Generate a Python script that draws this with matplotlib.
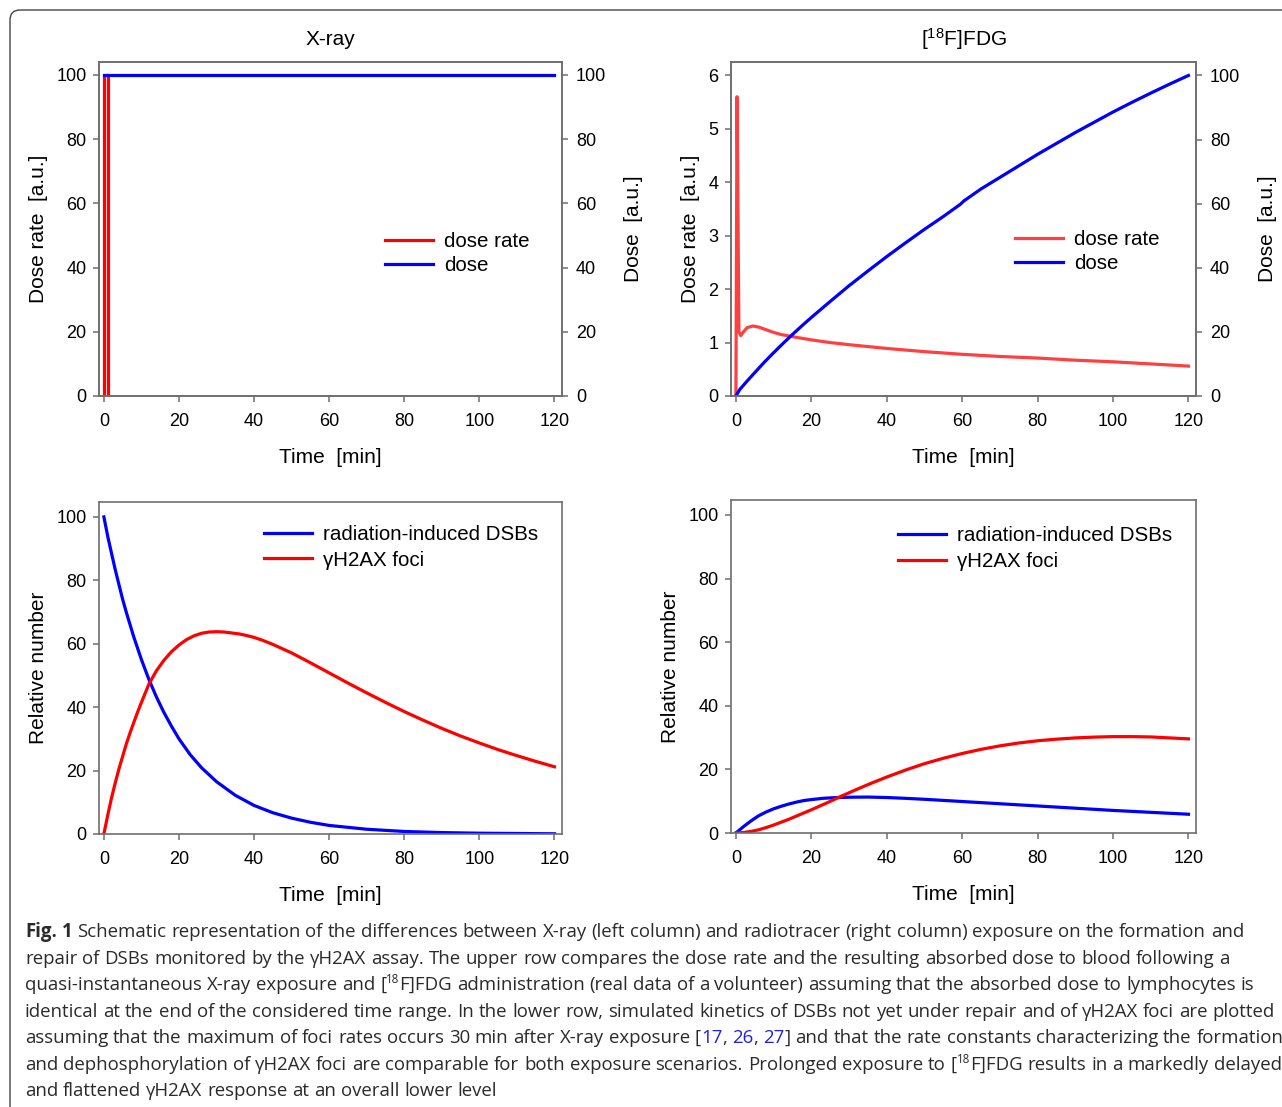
import re
import matplotlib
matplotlib.use("Agg")
import matplotlib.pyplot as plt
from matplotlib.patches import FancyBboxPatch
from matplotlib.transforms import IdentityTransform

plt.rcParams['font.family'] = ['Liberation Sans', 'DejaVu Sans']
plt.rcParams['mathtext.fontset'] = 'custom'
plt.rcParams['mathtext.rm'] = 'Liberation Sans'
plt.rcParams['mathtext.it'] = 'Liberation Sans'

W, H = 1282, 1107

#-----data-----#
# X-ray: short pulse, dose reached at once
xray_rate_t = [0, 0, 1, 1]
xray_rate = [0, 100, 100, 0]
xray_dose_t = [0, 120]
xray_dose = [100, 100]

# FDG: injection spike then slow washout
fdg_rate_t = [0, 0.3, 0.8, 1.3, 2, 3, 4.5, 6, 8, 10, 12, 15, 17.5, 20, 25, 30, 35, 40, 45, 50, 55, 60, 70, 80, 90,
              100, 110, 120]
fdg_rate = [0, 5.6, 1.2, 1.13, 1.2, 1.28, 1.31, 1.29, 1.24, 1.19, 1.15, 1.11, 1.08, 1.05, 1.0, 0.96, 0.925, 0.89,
            0.86, 0.83, 0.805, 0.78, 0.74, 0.71, 0.67, 0.64, 0.6, 0.56]
fdg_dose_t = [0, 1, 3, 5, 7.5, 10, 12.5, 15, 17.5, 20, 25, 30, 35, 40, 45, 50, 55, 59.5, 60.5, 65, 70, 75, 80, 85,
              90, 95, 100, 105, 110, 115, 120]
fdg_dose = [0, 2, 4.7, 7.3, 10.5, 13.5, 16.4, 19.2, 21.9, 24.5, 29.5, 34.4, 39, 43.5, 47.8, 52, 56, 59.8, 60.9,
            64.6, 68.2, 71.8, 75.4, 78.8, 82.2, 85.4, 88.6, 91.6, 94.5, 97.3, 100]

# lower row, X-ray
xr_dsb_t = [0, 1, 2, 3, 4, 5, 6, 8, 10, 12, 14, 16, 18, 20, 23, 26, 30, 35, 40, 45, 50, 55, 60, 70, 80, 90, 100, 120]
xr_dsb = [100, 94, 88.7, 83.5, 78.7, 74, 69.8, 62, 55, 48.7, 43.2, 38.3, 34, 30, 25, 20.9, 16.5, 12.2, 9, 6.7, 5,
          3.7, 2.7, 1.5, 0.8, 0.45, 0.25, 0.07]
xr_foci_t = [0, 1, 2, 3, 4, 5, 6, 7, 8, 9, 10, 12, 14, 16, 18, 20, 22, 24, 26, 28, 30, 32, 34, 36, 38, 40, 42, 45,
             50, 55, 60, 65, 70, 75, 80, 85, 90, 95, 100, 105, 110, 115, 120]
xr_foci = [0, 5.8, 11.2, 16, 20.5, 24.5, 28.5, 32, 35.3, 38.5, 41.5, 47.3, 51.5, 54.8, 57.5, 59.6, 61.3, 62.5, 63.3,
           63.7, 63.8, 63.7, 63.4, 63.1, 62.6, 62.0, 61.2, 59.8, 57.1, 54.0, 50.8, 47.6, 44.5, 41.5, 38.6, 35.9, 33.3,
           30.9, 28.7, 26.6, 24.7, 22.9, 21.2]

# lower row, FDG
fd_dsb_t = [0, 2, 4, 6, 8, 10, 12, 14, 16, 18, 20, 23, 26, 30, 35, 40, 45, 50, 60, 70, 80, 90, 100, 110, 120]
fd_dsb = [0, 2, 3.8, 5.4, 6.6, 7.6, 8.4, 9.1, 9.7, 10.2, 10.5, 10.9, 11.1, 11.25, 11.3, 11.15, 10.9, 10.6, 9.9,
          9.2, 8.5, 7.8, 7.1, 6.5, 5.9]
fd_foci_t = [0, 2, 4, 6, 8, 10, 12, 14, 16, 18, 20, 24, 28, 32, 36, 40, 45, 50, 55, 60, 65, 70, 75, 80, 85, 90, 95,
             100, 105, 110, 115, 120]
fd_foci = [0, 0.15, 0.5, 1.0, 1.7, 2.5, 3.4, 4.3, 5.3, 6.3, 7.3, 9.4, 11.6, 13.7, 15.7, 17.6, 19.8, 21.8, 23.5, 25,
           26.3, 27.4, 28.3, 29, 29.5, 29.9, 30.15, 30.3, 30.3, 30.2, 29.9, 29.6]

xticks = [0, 20, 40, 60, 80, 100, 120]
#-----data-----#

caption = [
    "*Fig. 1* Schematic representation of the differences between X-ray (left column) and radiotracer (right column) exposure on the formation and",
    "repair of DSBs monitored by the γH2AX assay. The upper row compares the dose rate and the resulting absorbed dose to blood following a",
    "quasi-instantaneous X-ray exposure and [^18^F]FDG administration (real data of a volunteer) assuming that the absorbed dose to lymphocytes is",
    "identical at the end of the considered time range. In the lower row, simulated kinetics of DSBs not yet under repair and of γH2AX foci are plotted",
    "assuming that the maximum of foci rates occurs 30 min after X-ray exposure [{17}, {26}, {27}] and that the rate constants characterizing the formation",
    "and dephosphorylation of γH2AX foci are comparable for both exposure scenarios. Prolonged exposure to [^18^F]FDG results in a markedly delayed",
    "and flattened γH2AX response at an overall lower level",
]

GRAY = '#6e6e6e'
RED = '#ff0000'
RED2 = '#ff4040'
BLUE = '#0000ff'
LW = 2.3
FS = 13
LAB = 15
LEG = 14.8


def ax_at(left, top, right, bottom):
    return fig.add_axes([left / W, 1 - bottom / H, (right - left) / W, (bottom - top) / H])


def style(ax, ylim, yticks):
    ax.set_xlim(-1.3, 122)
    ax.set_ylim(*ylim)
    ax.set_xticks(xticks)
    ax.set_yticks(yticks)
    for s in ax.spines.values():
        s.set_color(GRAY)
        s.set_linewidth(1.2)
    ax.tick_params(colors=GRAY, labelcolor='black', labelsize=FS, length=4, width=1.1)
    ax.tick_params(axis='x', pad=8)
    ax.tick_params(axis='y', pad=5)
    ax.set_xlabel("Time  [min]", fontsize=LAB, labelpad=13)


def style_right(ax2, ylim):
    ax2.set_ylim(*ylim)
    ax2.set_yticks([0, 20, 40, 60, 80, 100])
    for s in ax2.spines.values():
        s.set_color(GRAY)
        s.set_linewidth(1.2)
    ax2.tick_params(colors=GRAY, labelcolor='black', labelsize=FS, length=4, width=1.1, pad=6)
    ax2.set_ylabel("Dose  [a.u.]", fontsize=LAB, labelpad=13)


def legend(ax, handles, x, y, spacing):
    ax.legend(handles=handles, loc='upper left', bbox_to_anchor=(x, y), frameon=False, fontsize=LEG,
              handlelength=2.33, handletextpad=0.53, borderpad=0, borderaxespad=0, labelspacing=spacing)


fig = plt.figure(figsize=(W / 100, H / 100), dpi=100)

# top left
ax = ax_at(99, 62, 562, 396)
style(ax, (0, 104), [0, 20, 40, 60, 80, 100])
l1, = ax.plot(xray_rate_t, xray_rate, color=RED, lw=LW, label="dose rate")
ax.set_ylabel("Dose rate  [a.u.]", fontsize=LAB, labelpad=6)
ax.set_title("X-ray", fontsize=15, pad=12)
ax2 = ax.twinx()
l2, = ax2.plot(xray_dose_t, xray_dose, color=BLUE, lw=LW, label="dose")
style_right(ax2, (0, 104))
legend(ax2, [l1, l2], 0.618, 0.491, 0.24)

# top right
ax = ax_at(731, 62, 1196, 396)
style(ax, (0, 6.25), [0, 1, 2, 3, 4, 5, 6])
l1, = ax.plot(fdg_rate_t, fdg_rate, color=RED2, lw=LW, label="dose rate")
ax.set_ylabel("Dose rate  [a.u.]", fontsize=LAB, labelpad=6)
ax.set_title("[$^{18}$F]FDG", fontsize=15, pad=12)
ax2 = ax.twinx()
l2, = ax2.plot(fdg_dose_t, fdg_dose, color=BLUE, lw=LW, label="dose")
style_right(ax2, (0, 104.2))
legend(ax2, [l1, l2], 0.611, 0.497, 0.24)

# bottom left
ax = ax_at(99, 502, 562, 834)
style(ax, (0, 104.7), [0, 20, 40, 60, 80, 100])
b1, = ax.plot(xr_dsb_t, xr_dsb, color=BLUE, lw=LW, label="radiation-induced DSBs")
b2, = ax.plot(xr_foci_t, xr_foci, color=RED, lw=LW, label="γH2AX foci")
ax.set_ylabel("Relative number", fontsize=LAB, labelpad=6)
legend(ax, [b1, b2], 0.356, 0.931, 0.33)

# bottom right
ax = ax_at(731, 500, 1196, 833)
style(ax, (0, 104.7), [0, 20, 40, 60, 80, 100])
b1, = ax.plot(fd_dsb_t, fd_dsb, color=BLUE, lw=LW, label="radiation-induced DSBs")
b2, = ax.plot(fd_foci_t, fd_foci, color=RED, lw=LW, label="γH2AX foci")
ax.set_ylabel("Relative number", fontsize=LAB, labelpad=6)
legend(ax, [b1, b2], 0.359, 0.922, 0.33)

# frame round the figure
box = FancyBboxPatch((10, -30), W + 30, H - 10 + 30, boxstyle="round,pad=0,rounding_size=10",
                     transform=IdentityTransform(), fill=False, edgecolor='#444444', lw=1.0)
fig.add_artist(box)

#-----caption-----#
renderer = fig.canvas.get_renderer()
cap_font = ['Open Sans', 'DejaVu Sans']


def width_of(s, **kw):
    t = fig.text(0, 0, s, transform=IdentityTransform(), **kw)
    w = t.get_window_extent(renderer=renderer).width
    t.remove()
    return w


plain = re.sub(r'[*^{}]', '', caption[3])
cs = 10 * 1250 / width_of(plain, family=cap_font, fontsize=10)
space_w = width_of("n n", family=cap_font, fontsize=cs) - width_of("nn", family=cap_font, fontsize=cs)


def tokens(line):
    out = []
    pending = False
    for part in re.split(r'(\*[^*]+\*|\^[^^]+\^|\{[^}]+\})', line):
        if not part:
            continue
        kind = 'normal'
        if part[0] == '*':
            kind, part = 'bold', part[1:-1]
        elif part[0] == '^':
            kind, part = 'sup', part[1:-1]
        elif part[0] == '{':
            kind, part = 'link', part[1:-1]
        for w in re.split(r'( )', part):
            if w == ' ':
                pending = True
            elif w:
                out.append((w, kind, pending))
                pending = False
    return out


baselines = [937, 964, 990, 1017, 1043, 1070, 1096]
for line, yb in zip(caption, baselines):
    x = 25
    for w, kind, sp in tokens(line):
        if sp:
            x += space_w
        kw = dict(family=cap_font, fontsize=cs, color='#2a2a2a', va='baseline')
        y = H - yb
        if kind == 'bold':
            kw['fontweight'] = 'bold'
        elif kind == 'sup':
            kw['fontsize'] = cs * 0.62
            y += cs * 0.55
        elif kind == 'link':
            kw['color'] = '#2020e0'
        t = fig.text(x, y, w, transform=IdentityTransform(), **kw)
        x += t.get_window_extent(renderer=renderer).width
#-----caption-----#

plt.savefig("out.png", dpi=100)
